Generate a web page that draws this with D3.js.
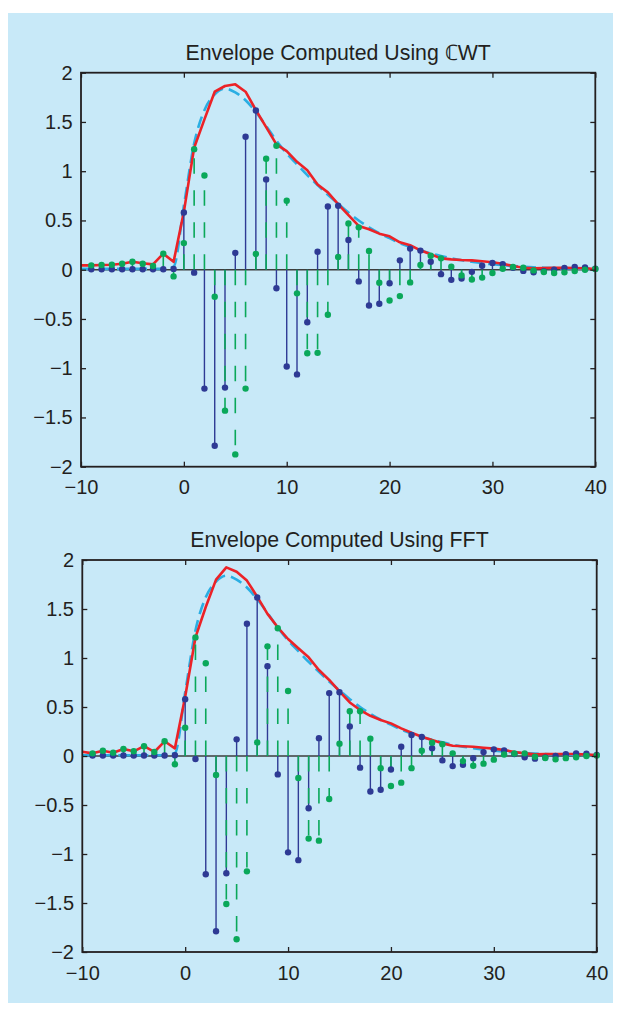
<!DOCTYPE html>
<html>
<head>
<meta charset="utf-8">
<script src="https://cdn.jsdelivr.net/npm/d3@7"></script>
<style>
  html, body { margin: 0; padding: 0; background: #ffffff; }
  svg { display: block; }
  text { font-family: "Liberation Sans", Arial, Helvetica, sans-serif; fill: #231f20; }
</style>
</head>
<body>
<svg id="chart" width="621" height="1011"></svg>
<script>
// Sample index for the stem plots (real part and Hilbert transform)
const stemIndex = d3.range(-9, 41);
// Sample index for the envelope curves
const envIndex = d3.range(-10, 41);

// Real-valued test signal x[n]
const signal = [
  0.005, 0.005, 0.005, 0.005, 0.005, 0.005, 0.005, 0.005, 0.008,
  0.58, -0.03, -1.207, -1.788, -1.197, 0.17, 1.35, 1.617, 0.917, -0.188,
  -0.983, -1.063, -0.533, 0.182, 0.642, 0.65, 0.302, -0.119, -0.363, -0.345,
  -0.137, 0.095, 0.214, 0.194, 0.08, -0.045, -0.103, -0.09, -0.022, 0.04,
  0.068, 0.056, 0.02, -0.012, -0.027, -0.015, 0.0, 0.018, 0.027, 0.024, 0.01
];

// Hilbert transform estimated with the CWT
const hilbertCWT = [
  0.044, 0.047, 0.05, 0.06, 0.08, 0.06, 0.037, 0.163, -0.068,
  0.27, 1.224, 0.956, -0.275, -1.431, -1.875, -1.207, 0.16, 1.126, 1.258,
  0.70, -0.24, -0.848, -0.844, -0.458, 0.13, 0.47, 0.43, 0.19, -0.132,
  -0.312, -0.268, -0.129, 0.047, 0.142, 0.115, 0.03, -0.058, -0.10, -0.08,
  -0.034, 0.01, 0.027, 0.02, -0.007, -0.024, -0.034, -0.027, -0.014, 0.0, 0.007
];

// Hilbert transform estimated with the FFT
const hilbertFFT = [
  0.027, 0.054, 0.034, 0.071, 0.048, 0.10, 0.041, 0.15, -0.084,
  0.289, 1.21, 0.946, -0.194, -1.51, -1.87, -1.177, 0.139, 1.119, 1.303,
  0.663, -0.224, -0.843, -0.864, -0.439, 0.126, 0.456, 0.456, 0.177, -0.124,
  -0.306, -0.272, -0.124, 0.054, 0.136, 0.121, 0.027, -0.052, -0.099, -0.078,
  -0.037, 0.015, 0.025, 0.027, -0.007, -0.02, -0.034, -0.022, -0.012, 0.0, 0.005
];

// Envelope computed from the CWT analytic signal
const envCWT = [
  0.044, 0.044, 0.047, 0.05, 0.06, 0.08, 0.065, 0.054, 0.163, 0.08,
  0.587, 1.238, 1.526, 1.807, 1.865, 1.882, 1.807, 1.621, 1.448, 1.272,
  1.204, 1.095, 1.01, 0.865, 0.785, 0.665, 0.553, 0.444, 0.41, 0.366,
  0.339, 0.278, 0.248, 0.197, 0.156, 0.115, 0.105, 0.098, 0.095, 0.085,
  0.075, 0.061, 0.037, 0.02, 0.014, 0.017, 0.02, 0.02, 0.017, 0.014, 0.007
];

// Envelope computed from the FFT analytic signal
const envFFT = [
  0.044, 0.027, 0.054, 0.034, 0.071, 0.048, 0.10, 0.041, 0.15, 0.078,
  0.605, 1.21, 1.52, 1.80, 1.925, 1.88, 1.79, 1.626, 1.45, 1.313,
  1.194, 1.099, 1.007, 0.878, 0.776, 0.66, 0.546, 0.469, 0.41, 0.367,
  0.333, 0.282, 0.238, 0.197, 0.163, 0.129, 0.105, 0.099, 0.095, 0.085,
  0.075, 0.061, 0.041, 0.027, 0.017, 0.02, 0.02, 0.02, 0.02, 0.014, 0.01
];

// True envelope of the test signal
const envTrue = [
  0.008, 0.008, 0.008, 0.008, 0.008, 0.008, 0.008, 0.008, 0.008, 0.03,
  0.65, 1.28, 1.62, 1.78, 1.84, 1.80, 1.72, 1.60, 1.46, 1.31,
  1.18, 1.07, 0.96, 0.86, 0.76, 0.67, 0.58, 0.50, 0.43, 0.37,
  0.32, 0.27, 0.23, 0.195, 0.165, 0.14, 0.115, 0.095, 0.08, 0.065,
  0.055, 0.045, 0.037, 0.03, 0.024, 0.02, 0.016, 0.013, 0.011, 0.009, 0.008
];

// Axis ticks and their labels
const xTicks = [-10, 0, 10, 20, 30, 40];
const xTickLabels = ["\u221210", "0", "10", "20", "30", "40"];
const yTicks = [-2, -1.5, -1, -0.5, 0, 0.5, 1, 1.5, 2];
const yTickLabels = ["\u22122", "\u22121.5", "\u22121", "\u22120.5", "0", "0.5", "1", "1.5", "2"];

const titles = ["Envelope Computed Using \u2102WT", "Envelope Computed Using FFT"];

const colors = {
  panel: "#c8e9f8",
  axis: "#231f20",
  baseline: "#3d3d3d",
  real: "#2e3a94",
  imag: "#0aa85a",
  envelope: "#ec2227",
  trueEnv: "#2aaee3"
};

const svg = d3.select("#chart");

// light blue background panel
svg.append("rect")
  .attr("x", 8).attr("y", 13)
  .attr("width", 605).attr("height", 990)
  .attr("fill", colors.panel);

const layouts = [
  { left: 81, right: 595.3, top: 72.7, bottom: 466.7, hilbert: hilbertCWT, env: envCWT, title: titles[0] },
  { left: 82.3, right: 596.7, top: 560, bottom: 952, hilbert: hilbertFFT, env: envFFT, title: titles[1] }
];

layouts.forEach(p => {
  const x = d3.scaleLinear().domain([-10, 40]).range([p.left, p.right]);
  const y = d3.scaleLinear().domain([-2, 2]).range([p.bottom, p.top]);
  const g = svg.append("g");

  // title
  g.append("text")
    .attr("x", (p.left + p.right) / 2)
    .attr("y", p.top - 12.7)
    .attr("text-anchor", "middle")
    .style("font-size", "21.3px")
    .text(p.title);

  // stem baseline
  g.append("line")
    .attr("x1", x(-10)).attr("x2", x(40))
    .attr("y1", y(0)).attr("y2", y(0))
    .attr("stroke", colors.baseline)
    .attr("stroke-width", 1.6);

  const realPts = stemIndex.map((n, i) => ({ n, v: signal[i] }));
  const imagPts = stemIndex.map((n, i) => ({ n, v: p.hilbert[i] }));

  // true envelope (dashed cyan)
  g.append("path")
    .datum(envIndex.map((n, i) => ({ n, v: envTrue[i] })))
    .attr("fill", "none")
    .attr("stroke", colors.trueEnv)
    .attr("stroke-width", 2.6)
    .attr("stroke-dasharray", "12,6")
    .attr("d", d3.line().curve(d3.curveMonotoneX).x(d => x(d.n)).y(d => y(d.v)));

  // computed envelope (red)
  g.append("path")
    .datum(envIndex.map((n, i) => ({ n, v: p.env[i] })))
    .attr("fill", "none")
    .attr("stroke", colors.envelope)
    .attr("stroke-width", 2.6)
    .attr("stroke-linejoin", "round")
    .attr("d", d3.line().x(d => x(d.n)).y(d => y(d.v)));

  // real-part stems (solid)
  g.append("g").selectAll("line")
    .data(realPts).join("line")
    .attr("x1", d => x(d.n)).attr("x2", d => x(d.n))
    .attr("y1", y(0)).attr("y2", d => y(d.v))
    .attr("stroke", colors.real)
    .attr("stroke-width", 1.4);

  // Hilbert-transform stems (dashed)
  g.append("g").selectAll("line")
    .data(imagPts).join("line")
    .attr("x1", d => x(d.n)).attr("x2", d => x(d.n))
    .attr("y1", y(0)).attr("y2", d => y(d.v))
    .attr("stroke", colors.imag)
    .attr("stroke-width", 1.6)
    .attr("stroke-dasharray", "15.5,16.5");

  g.append("g").selectAll("circle")
    .data(realPts).join("circle")
    .attr("cx", d => x(d.n)).attr("cy", d => y(d.v))
    .attr("r", 3.2)
    .attr("fill", colors.real);

  g.append("g").selectAll("circle")
    .data(imagPts).join("circle")
    .attr("cx", d => x(d.n)).attr("cy", d => y(d.v))
    .attr("r", 3.2)
    .attr("fill", colors.imag);

  // axes with inward ticks
  const fmtX = v => xTickLabels[xTicks.indexOf(v)];
  const fmtY = v => yTickLabels[yTicks.indexOf(v)];

  const axB = g.append("g").attr("transform", `translate(0,${p.bottom})`)
    .call(d3.axisBottom(x).tickValues(xTicks).tickFormat(fmtX).tickSize(-5).tickPadding(8.5));
  const axL = g.append("g").attr("transform", `translate(${p.left},0)`)
    .call(d3.axisLeft(y).tickValues(yTicks).tickFormat(fmtY).tickSize(-5).tickPadding(8.3));
  const axT = g.append("g").attr("transform", `translate(0,${p.top})`)
    .call(d3.axisTop(x).tickValues(xTicks).tickFormat("").tickSize(-5));
  const axR = g.append("g").attr("transform", `translate(${p.right},0)`)
    .call(d3.axisRight(y).tickValues(yTicks).tickFormat("").tickSize(-5));

  [axB, axL, axT, axR].forEach(a => {
    a.select(".domain").remove();
    a.selectAll(".tick line").attr("stroke", colors.axis).attr("stroke-width", 1.3);
    a.selectAll(".tick text")
      .attr("fill", colors.axis)
      .style("font-size", "20px")
      .style("font-family", '"Liberation Sans", Arial, sans-serif');
  });
  axB.selectAll(".tick text").attr("dy", "0.95em");

  // axes box
  g.append("rect")
    .attr("x", p.left).attr("y", p.top)
    .attr("width", p.right - p.left).attr("height", p.bottom - p.top)
    .attr("fill", "none")
    .attr("stroke", colors.axis)
    .attr("stroke-width", 1.8);
});
</script>
</body>
</html>
